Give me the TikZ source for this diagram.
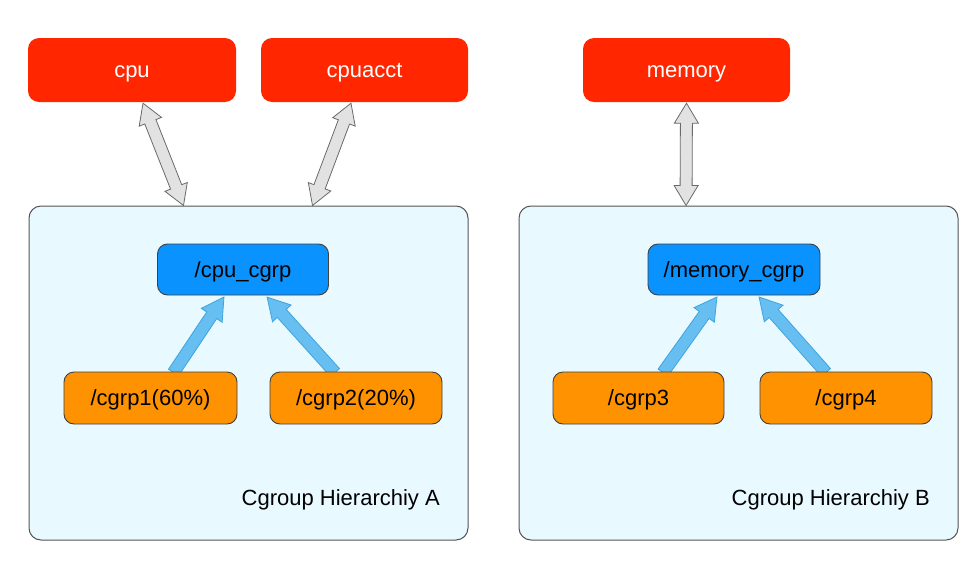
\documentclass[tikz,border=0pt]{standalone}
\usepackage{fontspec}
\setmainfont{Liberation Sans}
\usetikzlibrary{calc}
\pgfdeclarelayer{bg}
\pgfdeclarelayer{arr}
\pgfsetlayers{bg,arr,main}
\definecolor{cred}{HTML}{FF2600}
\definecolor{cblue}{HTML}{0A93FF}
\definecolor{corange}{HTML}{FF9200}
\definecolor{cpanel}{HTML}{E8F9FF}
\definecolor{cedge}{HTML}{555555}
\definecolor{cgrayf}{HTML}{E2E2E2}
\definecolor{cgrayd}{HTML}{6A6A6A}
\definecolor{cbluef}{HTML}{66BFF0}
\definecolor{cblued}{HTML}{3FA3DD}
\tikzset{
  txt/.style={font=\fontsize{22}{25}\selectfont},
  boxtxt/.style={txt, text height=20pt, text depth=5pt},
  subsys/.style={boxtxt, rectangle, rounded corners=11pt, fill=cred, text=white, minimum width=208pt, minimum height=64pt, inner sep=0pt},
  panel/.style={rectangle, rounded corners=12pt, fill=cpanel, draw=cedge, line width=1pt, minimum width=439pt, minimum height=334pt, inner sep=0pt},
  parent/.style={boxtxt, rectangle, rounded corners=10pt, fill=cblue, draw=black!75, line width=0.9pt, minimum width=171pt, minimum height=51pt, inner sep=0pt},
  child/.style={boxtxt, rectangle, rounded corners=10pt, fill=corange, draw=black!75, line width=0.9pt, minimum width=173pt, minimum height=52pt, inner sep=0pt},
  grayarrow/.style={fill=cgrayf, draw=cgrayd, line width=0.8pt, line join=miter},
  bluearrow/.style={fill=cbluef, draw=cblued, line width=0.8pt, line join=miter},
}
% double-headed block arrow between two points
\newcommand\dblockarrow[2]{%
  \draw[grayarrow] let \p1=(#1), \p2=(#2), \n1={atan2(\y2-\y1,\x2-\x1)}, \n2={veclen(\x2-\x1,\y2-\y1)} in
  {[shift={(\p1)}, rotate=\n1]
   (0pt,0pt) -- (20pt,12pt) -- (20pt,6pt) -- ({\n2-20pt},6pt) -- ({\n2-20pt},12pt) -- (\n2,0pt)
   -- ({\n2-20pt},-12pt) -- ({\n2-20pt},-6pt) -- (20pt,-6pt) -- (20pt,-12pt) -- cycle};
}
% single-headed block arrow from #1 to #2
\newcommand\sblockarrow[2]{%
  \draw[bluearrow] let \p1=(#1), \p2=(#2), \n1={atan2(\y2-\y1,\x2-\x1)}, \n2={veclen(\x2-\x1,\y2-\y1)} in
  {[shift={(\p1)}, rotate=\n1]
   (0pt,-6pt) -- ({\n2-22pt},-6pt) -- ({\n2-22pt},-12.5pt) -- (\n2,0pt)
   -- ({\n2-22pt},12.5pt) -- ({\n2-22pt},6pt) -- (0pt,6pt) -- cycle};
}
\begin{document}
\begin{tikzpicture}[x=1pt,y=-1pt]
\begin{pgfonlayer}{bg}
\fill[white] (0,0) rectangle (971,562);
\end{pgfonlayer}
\useasboundingbox (0,0) rectangle (971,562);

\begin{pgfonlayer}{bg}
\node[panel] (A) at (248.5,373) {};
\node[panel] (B) at (738.5,373) {};
\end{pgfonlayer}

\node[subsys] (cpu) at (132,70) {cpu};
\node[subsys, minimum width=207pt] (cpuacct) at (364.5,70) {cpuacct};
\node[subsys, minimum width=207pt] (memory) at (686.5,70) {memory};

\node[parent] (cpucg) at (243,269.5) {/cpu\_cgrp};
\node[parent, minimum width=172pt] (memcg) at (734,269.5) {/memory\_cgrp};

\node[child] (g1) at (150.5,398) {/cgrp1(60\%)};
\node[child, minimum width=172pt] (g2) at (356,398) {/cgrp2(20\%)};
\node[child, minimum width=171pt] (g3) at (638.5,398) {/cgrp3};
\node[child, minimum width=172pt] (g4) at (846,398) {/cgrp4};

\node[txt, anchor=base east, inner sep=0pt] (labA) at (440,505.5) {Cgroup Hierarchiy A};
\node[txt, anchor=base east, inner sep=0pt] (labB) at (930,505.5) {Cgroup Hierarchiy B};

\coordinate (a1) at ($(cpu.south)+(11,1)$);
\coordinate (a2) at ($(A.north west)+(155,0)$);
\coordinate (b1) at ($(cpuacct.south)+(-13.5,1)$);
\coordinate (b2) at ($(A.north west)+(284,0)$);
\coordinate (c1) at ($(memory.south)+(0,1)$);
\coordinate (c2) at ($(B.north west)+(167.5,0)$);

\coordinate (d1) at ($(g1.north)+(23,1)$);
\coordinate (d2) at ($(cpucg.south)+(-19,1.5)$);
\coordinate (e1) at ($(g2.north)+(-21,1)$);
\coordinate (e2) at ($(cpucg.south)+(24,1.5)$);
\coordinate (f1) at ($(g3.north)+(24.5,1)$);
\coordinate (f2) at ($(memcg.south)+(-17,1.5)$);
\coordinate (h1) at ($(g4.north)+(-20,1)$);
\coordinate (h2) at ($(memcg.south)+(25,1.5)$);

\begin{pgfonlayer}{arr}
\dblockarrow{a1}{a2}
\dblockarrow{b1}{b2}
\dblockarrow{c1}{c2}
\sblockarrow{d1}{d2}
\sblockarrow{e1}{e2}
\sblockarrow{f1}{f2}
\sblockarrow{h1}{h2}
\end{pgfonlayer}
\end{tikzpicture}
\end{document}
